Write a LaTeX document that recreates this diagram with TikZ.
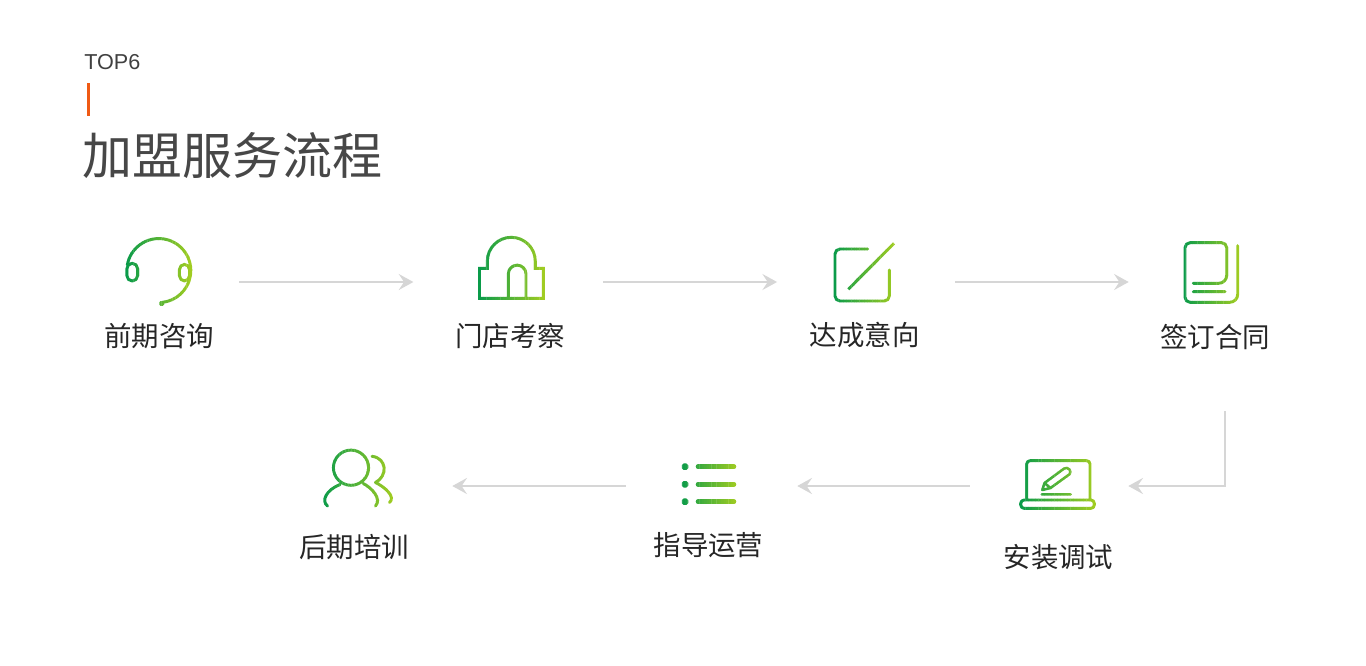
\documentclass[tikz,border=0pt]{standalone}
\usepackage{fontspec}
\setmainfont{Liberation Sans}
\newfontfamily\cjk{Noto Sans CJK SC}
\usetikzlibrary{arrows.meta}
\definecolor{deepgreen}{HTML}{0A9B4A}
\definecolor{leafgreen}{HTML}{A0CC22}
\definecolor{flowgray}{HTML}{D6D6D6}
\definecolor{barorange}{HTML}{F05A14}
% stroke painted in vertical strips, left to right
\newcommand{\gradstroke}[4][]{%
  \foreach \i in {0,...,23} {
    \pgfmathsetmacro{\mixval}{100*\i/23}
    \pgfmathsetmacro{\xa}{#2+(#3-#2)*\i/24}
    \pgfmathsetmacro{\xb}{#2+(#3-#2)*(\i+1)/24+0.25}
    \begin{scope}
      \clip (\xa,200) rectangle (\xb,600);
      \draw[iconline, draw=leafgreen!\mixval!deepgreen, #1] #4;
    \end{scope}
  }
}
\begin{document}
\begin{tikzpicture}[x=0.75pt, y=-0.75pt,
  iconline/.style = {line width=2.2pt, line cap=round, line join=round},
  iconbox/.style = {minimum size=48pt, inner sep=0pt},
  steplabel/.style = {font=\cjk\fontsize{20.6pt}{24pt}\selectfont, text=black!85, inner sep=0pt},
  flow/.style = {draw=flowgray, line width=2pt, -{Stealth[length=11pt, width=12pt, inset=4pt]}}]
        \useasboundingbox (0,0) rectangle (1366,665);
        \node[anchor=west, inner sep=0pt, text=black!75, font=\fontsize{16.2pt}{18pt}\selectfont] (top) at (84,62) {TOP6};
        \fill[barorange] (87,83) rectangle (90,116);
        \node[anchor=west, inner sep=0pt, text=black!72, font=\cjk\fontsize{37.5pt}{42pt}\selectfont] (title) at (82,155) {加盟服务流程};
        % step nodes, arrows run through their centres
        \node[iconbox] (ask) at (159,282) {};
        \node[iconbox] (visit) at (511,282) {};
        \node[iconbox] (intent) at (864,282) {};
        \node[iconbox] (sign) at (1212,282) {};
        \node[iconbox] (install) at (1058,486) {};
        \node[iconbox] (guide) at (708,486) {};
        \node[iconbox] (after) at (358,486) {};
        \coordinate (bend) at (1225,411);
        \node[steplabel] (asklabel) at (159,336) {前期咨询};
        \node[steplabel] (visitlabel) at (510,336) {门店考察};
        \node[steplabel] (intentlabel) at (864.7,335) {达成意向};
        \node[steplabel] (signlabel) at (1215,337) {签订合同};
        \node[steplabel] (installlabel) at (1058.5,557) {安装调试};
        \node[steplabel] (guidelabel) at (708.5,545) {指导运营};
        \node[steplabel] (afterlabel) at (354,547) {后期培训};
        \draw[flow, shorten <=36pt, shorten >=49pt] (ask) -- (visit);
        \draw[flow, shorten <=45pt, shorten >=41pt] (visit) -- (intent);
        \draw[flow, shorten <=44.25pt, shorten >=38.25pt] (intent) -- (sign);
        \draw[flow, shorten >=28.5pt] (bend) |- (install);
        \draw[flow, shorten <=42pt, shorten >=42.75pt] (install) -- (guide);
        \draw[flow, shorten <=37.5pt, shorten >=46.5pt] (guide) -- (after);
        % headset
        \gradstroke{125}{192}{(127.3,265) arc[start angle=190, end angle=444, radius=32]
          (161.7,303.5) circle[radius=1.4]
          [rounded corners=4pt] (126.9,263.3) rectangle (137.6,281) (179.4,264.3) rectangle (189.5,281)}
        % gate
        \gradstroke[line join=miter]{478}{545}{(479.3,298.3) -- (479.3,268.3) -- (487.3,268.3) -- (487.3,261.3)
          arc[start angle=180, end angle=360, radius=24] -- (535.3,268.3) -- (543.3,268.3) -- (543.3,298.3) -- cycle
          (508.3,298.3) -- (508.3,274) arc[start angle=180, end angle=360, radius=8.85] -- (526,298.3)}
        % pen on a square
        \gradstroke{833}{896}{[rounded corners=3.75pt] (867.7,249) -- (835,249) -- (835,301) -- (889.3,301) -- (889.3,270)}
        \gradstroke[line cap=butt]{833}{896}{(848.3,289.3) -- (894,243.3)}
        % book
        \gradstroke{1183}{1240}{[rounded corners=6pt] (1193.3,283.3) -- (1226.7,283.3)
          [rounded corners=3.75pt] -- (1226.7,242.7) -- (1185,242.7) -- (1185,302.3)
          [rounded corners=6pt] -- (1237.7,302.3) -- (1237.7,245.7)
          (1193.3,291.7) -- (1225,291.7)}
        % laptop
        \gradstroke{1019}{1096}{[rounded corners=2.5pt] (1026.7,500) -- (1026.7,460.7) -- (1090,460.7) -- (1090,500)
          (1020.7,500) rectangle (1094.3,508.3)}
        \gradstroke[line width=1.9pt]{1019}{1096}{(1041.7,494.3) -- (1070.7,494.3)
          (1042.3,490) -- (1044.5,483) -- (1064,468.6) arc[start angle=235, end angle=395, radius=4] -- (1050.5,488) -- cycle
          (1044.5,483) -- (1050.5,488)}
        % list
        \gradstroke[line width=2.85pt]{680}{738}{(685,466.7) circle[radius=1.9] (685,484.3) circle[radius=1.9] (685,501.7) circle[radius=1.9]}
        \gradstroke[line width=3.4pt]{680}{738}{(698,466.7) -- (734,466.7) (698,484.3) -- (734,484.3) (698,501.7) -- (734,501.7)}
        % two people
        \gradstroke{321}{394}{(351,467.7) circle[radius=17.6]
          (327.5,506) .. controls (321,501) and (326,490) .. (340,484.5)
          (363.3,483.5) .. controls (372,488) and (382,499) .. (375.5,506)
          (372,456.3) .. controls (387,458) and (388,476) .. (375.5,482.5)
          .. controls (385,487) and (396,497) .. (389.5,502.5)}
    \end{tikzpicture}
\end{document}
